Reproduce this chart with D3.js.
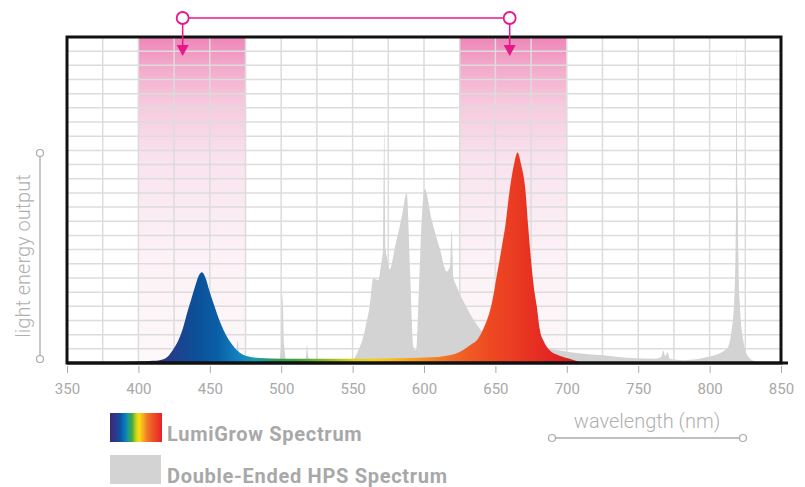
<!DOCTYPE html>
<html lang="en">
<head>
  <meta charset="UTF-8">
  <title>LumiGrow vs Double-Ended HPS spectrum</title>
  <style>
    body { margin: 0; background: #fff; }
    .tick  { font: 400 15px Roboto, sans-serif; fill: #a8a8a8; }
    .axlab { font: 300 20px Roboto, sans-serif; fill: #b0b0b0; }
    .leg   { font: 700 20px Roboto, sans-serif; fill: #a8a8a8; letter-spacing: 0.7px; }
    .grid  { stroke: #dcdcdc; stroke-width: 1.5; }
  </style>
</head>
<body>
  <svg id="chart" width="805" height="487"></svg>

  <script src="https://d3js.org/d3.v7.min.js"></script>
  <script>
    // x ticks, nm
    const X_TICKS = [350, 400, 450, 500, 550, 600, 650, 700, 750, 800, 850];
    // highlighted bands (nm) and arrow targets
    const BANDS = [[400, 475], [625, 700]];
    const ARROWS = [431, 660];

    // LumiGrow spectrum: wavelength / relative output (grid rows)
    const LUMI_NM = [360, 380, 400, 410, 415, 420, 424, 428, 431, 434, 437, 440, 442, 444.5, 447, 450, 453, 455, 458, 462, 466, 469, 473, 477, 485, 500, 520, 550, 570, 590, 605, 615, 622, 628, 633, 637, 641, 644, 647, 649, 651, 653, 655, 657, 660, 663, 665.5, 668, 671, 673, 675, 677, 679, 681, 684, 688, 694, 700, 705, 710, 712];
    const LUMI_VAL = [0, 0.05, 0.1, 0.15, 0.2, 0.4, 0.9, 1.6, 2.4, 3.5, 4.5, 5.5, 6.1, 6.4, 6.0, 5.0, 4.1, 3.5, 2.7, 1.85, 1.25, 0.9, 0.6, 0.45, 0.35, 0.3, 0.3, 0.3, 0.32, 0.35, 0.4, 0.5, 0.65, 0.95, 1.3, 1.6, 2.3, 3.0, 4.0, 5.0, 6.2, 7.3, 8.5, 9.7, 12.2, 14.0, 14.85, 14.0, 12.2, 9.6, 7.2, 5.3, 4.0, 2.4, 1.5, 0.9, 0.55, 0.35, 0.2, 0.05, 0];

    // Double-ended HPS spectrum
    const HPS_NM = [350, 460, 466, 468.5, 469.5, 470.5, 473, 498, 500, 501, 502, 504, 516, 517.5, 518, 519, 521, 540, 546, 550, 554, 557.5, 560, 562, 564.5, 566, 568, 570, 571.3, 572.2, 573.2, 574, 576, 579.7, 584.4, 587.9, 590.2, 592.5, 594.4, 596.5, 598.4, 600.5, 605.4, 611.2, 615.9, 618.2, 619.4, 620.5, 622.9, 630, 635, 640, 650, 660, 670, 686, 700, 723, 746, 762, 766, 767.6, 769, 770.5, 772, 781.6, 800, 812, 815.4, 817.5, 818.6, 819, 819.6, 821, 823.6, 827, 832, 838];
    const HPS_VAL = [0, 0, 0.05, 0.6, 1.6, 0.5, 0.05, 0.05, 1.2, 4.9, 1.3, 0.1, 0.05, 0.5, 1.27, 0.4, 0.05, 0.05, 0.1, 0.2, 0.9, 1.85, 3.0, 4.0, 6.0, 5.9, 5.85, 7.0, 8.0, 16.6, 8.0, 7.5, 6.6, 8.2, 10.3, 12.0, 6.6, 1.15, 0.9, 5.4, 10.1, 12.3, 10.1, 8.0, 6.45, 6.8, 9.4, 6.1, 5.4, 3.9, 3.0, 2.3, 1.6, 1.3, 1.15, 1.03, 0.8, 0.56, 0.35, 0.3, 0.4, 0.87, 0.5, 0.75, 0.3, 0.2, 0.45, 1.0, 2.3, 5, 12, 22.4, 12, 4.5, 1.6, 0.45, 0.1, 0];

    // colour of the LumiGrow fill by wavelength
    const SPEC_NM  = [350, 380, 405, 425, 440, 455, 470, 482, 495, 510, 530, 550, 565, 580, 600, 620, 645, 665, 690, 705, 712];
    const SPEC_COL = ["#111111", "#2a2050", "#3b2a78", "#213f8c", "#0b5098", "#0a5ea6", "#1282c0", "#1a9cb0", "#2a9a5a", "#3aa040", "#88b828", "#d8d018", "#f5d010", "#f8b818", "#f59020", "#f06828", "#ee4a22", "#e93a22", "#e42424", "#cc2020", "#222222"];

    const svg = d3.select('#chart');
    const x = d3.scaleLinear().domain([350, 850]).range([67, 781]);
    const y = d3.scaleLinear().domain([0, 23]).range([363, 37]);
    const pink = "#e8178a";

    const defs = svg.append("defs");
    const bandGrad = defs.append("linearGradient").attr("id", "band")
      .attr("x1", 0).attr("y1", 0).attr("x2", 0).attr("y2", 1);
    [[0, "#ee86b8"], [0.08, "#f2a6c9"], [0.2, "#f6c9dd"], [0.38, "#f9e3ee"], [0.65, "#fcf1f6"], [1, "#fdf8fa"]].forEach(s =>
      bandGrad.append("stop").attr("offset", s[0]).attr("stop-color", s[1]));

    const specGrad = defs.append("linearGradient").attr("id", "spec")
      .attr("gradientUnits", "userSpaceOnUse")
      .attr("x1", x(350)).attr("x2", x(712)).attr("y1", 0).attr("y2", 0);
    SPEC_NM.forEach((nm, i) => specGrad.append("stop")
      .attr("offset", (nm - 350) / (712 - 350)).attr("stop-color", SPEC_COL[i]));

    const legGrad = defs.append("linearGradient").attr("id", "legspec");
    [[0, "#3a2a72"], [0.12, "#2a3a90"], [0.2, "#0a55a0"], [0.3, "#0a80c0"], [0.36, "#20a080"], [0.42, "#40a840"],
     [0.5, "#c8d020"], [0.56, "#f8e010"], [0.63, "#f8b020"], [0.72, "#f07828"], [0.85, "#ee4a25"], [1, "#e8202a"]]
      .forEach(s => legGrad.append("stop").attr("offset", s[0]).attr("stop-color", s[1]));

    // pink bands
    BANDS.forEach(b => {
      svg.append("rect").attr("x", x(b[0])).attr("y", y(23))
        .attr("width", x(b[1]) - x(b[0])).attr("height", y(0) - y(23))
        .attr("fill", "url(#band)");
    });

    // grid
    d3.range(375, 850, 25).forEach(nm => {
      svg.append("line").attr("class", "grid")
        .attr("x1", x(nm)).attr("x2", x(nm)).attr("y1", y(23)).attr("y2", y(0));
    });
    d3.range(1, 23).forEach(v => {
      svg.append("line").attr("class", "grid")
        .attr("x1", x(350)).attr("x2", x(850)).attr("y1", y(v)).attr("y2", y(v));
    });

    // spectra
    const area = d3.area().curve(d3.curveMonotoneX)
      .x(d => x(d[0])).y0(y(0)).y1(d => y(d[1]));
    svg.append("path").attr("d", area(HPS_NM.map((n, i) => [n, HPS_VAL[i]])))
      .attr("fill", "#d3d3d3");
    svg.append("path").attr("d", area(LUMI_NM.map((n, i) => [n, LUMI_VAL[i]])))
      .attr("fill", "url(#spec)");

    // frame
    svg.append("rect").attr("x", x(350)).attr("y", y(23))
      .attr("width", x(850) - x(350)).attr("height", y(0) - y(23))
      .attr("fill", "none").attr("stroke", "#111").attr("stroke-width", 3);
    svg.append("line").attr("x1", x(350)).attr("x2", x(850) + 7)
      .attr("y1", y(0)).attr("y2", y(0)).attr("stroke", "#111").attr("stroke-width", 3);

    // x axis
    const xAxis = d3.axisBottom(x).tickValues(X_TICKS).tickSize(7).tickPadding(10).tickFormat(d3.format("d"));
    const gx = svg.append("g").attr("transform", `translate(0,${y(0) + 3})`).call(xAxis);
    gx.select(".domain").remove();
    gx.selectAll(".tick line").attr("stroke", "#aaa");
    gx.selectAll(".tick text").attr("class", "tick").attr("fill", null).attr("font-size", null).attr("font-family", null);

    // arrows
    svg.append("line").attr("x1", x(ARROWS[0])).attr("x2", x(ARROWS[1]))
      .attr("y1", 18).attr("y2", 18).attr("stroke", pink).attr("stroke-width", 1.5);
    ARROWS.forEach(nm => {
      const cx = x(nm);
      svg.append("line").attr("x1", cx).attr("x2", cx).attr("y1", 24).attr("y2", 46)
        .attr("stroke", pink).attr("stroke-width", 1.5);
      svg.append("path").attr("d", `M${cx - 6},45 L${cx + 6},45 L${cx},56 Z`).attr("fill", pink);
      svg.append("circle").attr("cx", cx).attr("cy", 18).attr("r", 6)
        .attr("fill", "#fff").attr("stroke", pink).attr("stroke-width", 1.8);
    });

    // axis titles with end markers
    const marker = (x1, y1, x2, y2) => {
      svg.append("line").attr("x1", x1).attr("y1", y1).attr("x2", x2).attr("y2", y2)
        .attr("stroke", "#aaa").attr("stroke-width", 1.3);
      [[x1, y1], [x2, y2]].forEach(p => svg.append("circle").attr("cx", p[0]).attr("cy", p[1]).attr("r", 3.5)
        .attr("fill", "#fff").attr("stroke", "#aaa").attr("stroke-width", 1.2));
    };
    marker(40, 153, 40, 359);
    svg.append("text").attr("class", "axlab")
      .attr("transform", "translate(30,256) rotate(-90)")
      .attr("text-anchor", "middle").text("light energy output");
    marker(552, 438, 743, 438);
    svg.append("text").attr("class", "axlab")
      .attr("x", 647).attr("y", 428).attr("text-anchor", "middle").text("wavelength (nm)");

    // legend
    svg.append("rect").attr("x", 110).attr("y", 413).attr("width", 52).attr("height", 29).attr("fill", "url(#legspec)");
    svg.append("text").attr("class", "leg").attr("x", 167).attr("y", 441).text("LumiGrow Spectrum");
    svg.append("rect").attr("x", 110).attr("y", 455).attr("width", 51).attr("height", 29).attr("fill", "#d3d3d3");
    svg.append("text").attr("class", "leg").attr("x", 167).attr("y", 483).text("Double-Ended HPS Spectrum");
  </script>
</body>
</html>
